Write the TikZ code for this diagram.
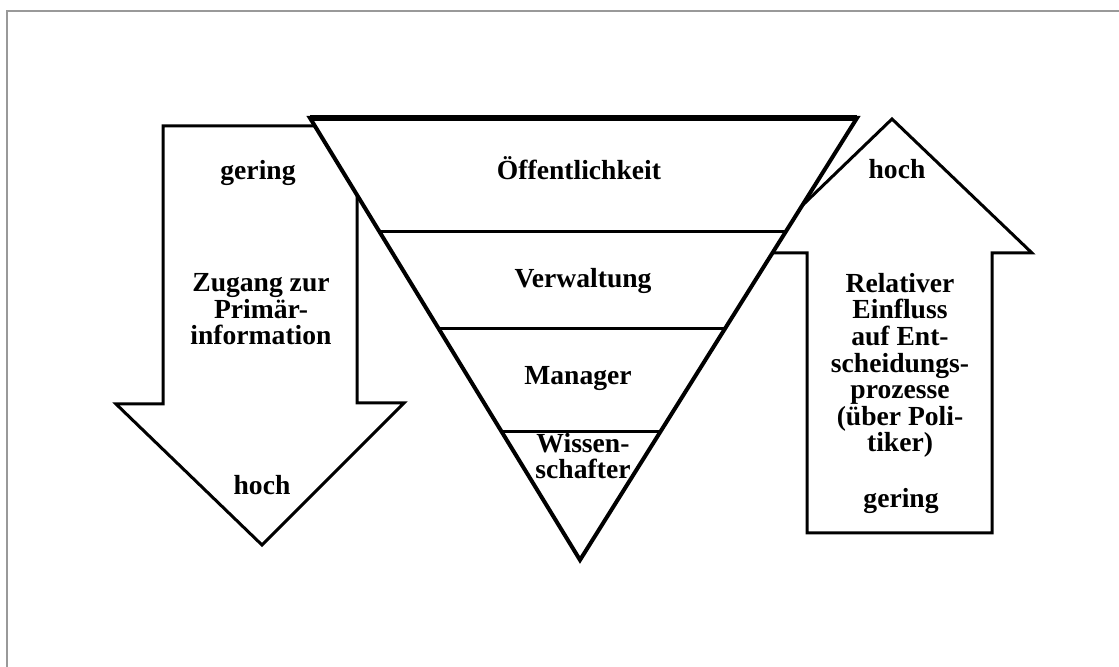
\documentclass[tikz,border=0pt]{standalone}
\usepackage{fontspec}
\setmainfont{Liberation Serif}
\usetikzlibrary{calc}
\tikzset{
  arrowshape/.style={draw=black, fill=white, line width=1.5pt, line join=miter},
  funnel/.style={draw=black, fill=white, line width=2pt, line join=miter},
  tier/.style={draw=black, line width=1.5pt},
  lbl/.style={font=\bfseries\fontsize{13.8}{13.3}\selectfont, align=center, inner sep=0pt, anchor=base},
  frame/.style={draw=gray!80, line width=0.6pt}
}
\begin{document}
\begin{tikzpicture}[x=0.5pt,y=-0.5pt]
\useasboundingbox (0,0) rectangle (1119,667);
% frame (only top and left edges visible)
\draw[frame] (7,667) -- (7,11) -- (1119,11);

% left arrow (down)
\draw[arrowshape] (163,126) -- (357,126) -- (357,403) -- (404,403) -- (262,545)
   -- (116,404) -- (163,404) -- cycle;
% right arrow (up)
\draw[arrowshape] (807,533) -- (807,253) -- (753,253) -- (892,119) -- (1032,253)
   -- (992,253) -- (992,533) -- cycle;

% funnel triangle
\coordinate (tl) at (310,118);
\coordinate (tr) at (857,118);
\coordinate (tip) at (580,560);
\draw[funnel] (tl) -- (tr) -- (tip) -- cycle;
\draw[line width=2.6pt] (tl) -- (tr);
\coordinate (l1) at ($(tl)!0.2557!(tip)$);
\coordinate (r1) at ($(tr)!0.2557!(tip)$);
\coordinate (l2) at ($(tl)!0.477!(tip)$);
\coordinate (r2) at ($(tr)!0.477!(tip)$);
\coordinate (l3) at ($(tl)!0.710!(tip)$);
\coordinate (r3) at ($(tr)!0.710!(tip)$);
\draw[tier] (l1) -- (r1);
\draw[tier] (l2) -- (r2);
\draw[tier] (l3) -- (r3);

% texts in funnel (base anchor = baseline of last line)
\node[lbl] (oef) at (579,180) {Öffentlichkeit};
\node[lbl] (ver) at (583,288) {Verwaltung};
\node[lbl] (man) at (578,385) {Manager};
\node[lbl] (wis) at (583,479) {Wissen-\\schafter};

% left arrow texts
\node[lbl] (lg) at (258,180) {gering};
\node[lbl] (lz) at (261,345) {Zugang zur\\Primär-\\information};
\node[lbl] (lh) at (262,495) {hoch};

% right arrow texts
\node[lbl] (rh) at (897,179) {hoch};
\node[lbl] (rr) at (900,452) {Relativer\\Einfluss\\auf Ent-\\scheidungs-\\prozesse\\(über Poli-\\tiker)};
\node[lbl] (rg) at (901,508) {gering};
\end{tikzpicture}
\end{document}
